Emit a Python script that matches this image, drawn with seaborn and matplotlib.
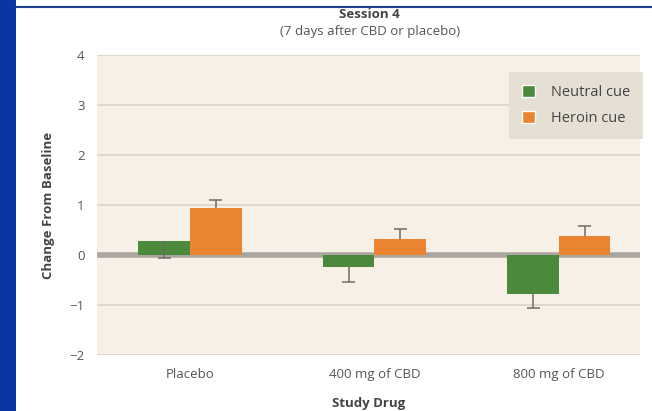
import matplotlib
matplotlib.use("Agg")
import matplotlib.pyplot as plt
import seaborn as sns
import pandas as pd
from matplotlib.patches import Rectangle
from matplotlib.lines import Line2D

drugs = ["Placebo", "400 mg of CBD", "800 mg of CBD"]
cues = ["Neutral cue", "Heroin cue"]
neutral = [0.28, -0.24, -0.77]
heroin = [0.95, 0.32, 0.38]
neutral_err = [0.33, 0.29, 0.28]
heroin_err = [0.15, 0.21, 0.21]
yticks = [-2, -1, 0, 1, 2, 3, 4]

df = pd.DataFrame({
    "drug": drugs * 2,
    "cue": [cues[0]] * 3 + [cues[1]] * 3,
    "value": neutral + heroin,
})

sns.set_theme(style="white")
plt.rcParams["font.family"] = ["Open Sans", "DejaVu Sans"]

fig = plt.figure(figsize=(6.52, 4.11), dpi=100)
fig.patch.set_facecolor("white")
# decorative slide border
fig.add_artist(Rectangle((0, 0), 16 / 652, 1, transform=fig.transFigure,
                         facecolor="#0b35a0", edgecolor="none"))
fig.add_artist(Line2D([16 / 652, 1], [1 - 7 / 411, 1 - 7 / 411], transform=fig.transFigure,
                      color="#1f3f8f", lw=1.5))

ax = fig.add_axes([97 / 652, 1 - 355 / 411, 543 / 652, 300 / 411])
ax.set_facecolor("#f6f0e6")

green = "#4b8a3c"
orange = "#ea8430"
sns.barplot(data=df, x="drug", y="value", hue="cue", order=drugs, hue_order=cues,
            palette=[green, orange], width=0.56, errorbar=None, ax=ax,
            saturation=1, linewidth=0, zorder=3)

for yv in yticks:
    if yv == 0:
        ax.axhline(0, color="#aaa59e", lw=4, zorder=2)
    else:
        ax.axhline(yv, color="#dcd6cb", lw=1.3, zorder=1)

# one-sided error bars, drawn away from the bar end
ecol = "#6f6a66"
cap = 0.035
for i in range(3):
    for xc, v, e, sign in ((i - 0.14, neutral[i], neutral_err[i], -1),
                           (i + 0.14, heroin[i], heroin_err[i], 1)):
        end = v + sign * e
        ax.vlines(xc, v, end, color=ecol, lw=1.1, zorder=4)
        ax.hlines(end, xc - cap, xc + cap, color=ecol, lw=1.1, zorder=4)

ax.set_ylim(-2, 4)
ax.set_xlim(-0.505, 2.44)
ax.set_yticks(yticks)
ax.set_yticklabels([str(v).replace("-", "\u2212") for v in yticks])
for s in ax.spines.values():
    s.set_visible(False)
ax.tick_params(axis="both", length=0, colors="#555555", labelsize=9.5)
ax.tick_params(axis="y", pad=9)
ax.tick_params(axis="x", pad=9)

ax.set_xlabel("Study Drug", fontsize=9.5, fontweight="bold", color="#444444")
ax.xaxis.set_label_coords(0.5, -(403 - 355) / 300, transform=ax.transAxes)
ax.xaxis.label.set_va("center")
ax.set_ylabel("Change From Baseline", fontsize=9.5, fontweight="bold", color="#444444", labelpad=10)

fig.text(0.567, 1 - 14 / 411, "Session 4", ha="center", va="center", fontsize=9.5,
         fontweight="bold", color="#444444")
fig.text(0.567, 1 - 32 / 411, "(7 days after CBD or placebo)", ha="center", va="center",
         fontsize=9.5, color="#555555")

handles = [Rectangle((0, 0), 1, 1, facecolor=green), Rectangle((0, 0), 1, 1, facecolor=orange)]
leg = ax.legend(handles, cues, loc="upper right", bbox_to_anchor=(1.006, 0.945),
                frameon=True, fancybox=False, facecolor="#e6e0d4", edgecolor="none",
                framealpha=1, fontsize=10.5, handlelength=0.9, handleheight=0.9,
                handletextpad=1.1, borderpad=0.9, labelspacing=0.75, borderaxespad=0)
for t in leg.get_texts():
    t.set_color("#444444")

fig.savefig("out.png", dpi=100)
